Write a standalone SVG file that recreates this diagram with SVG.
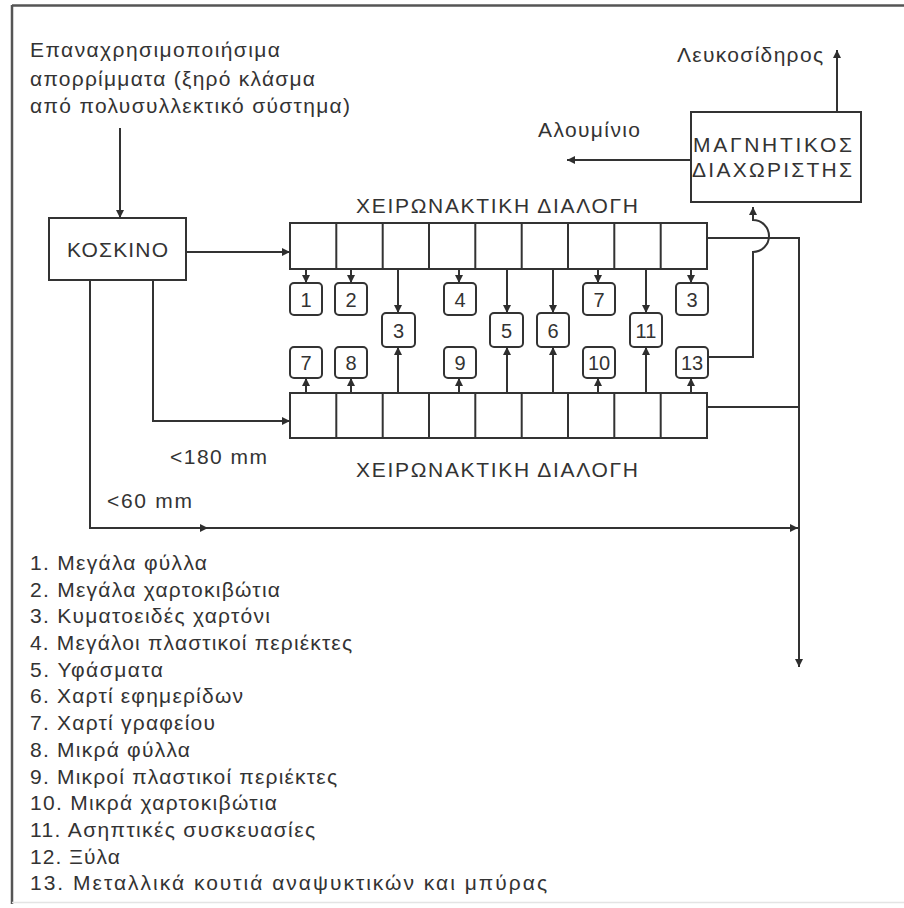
<svg xmlns="http://www.w3.org/2000/svg" width="904" height="908" viewBox="0 0 904 908">
<defs>
<marker id="ah" viewBox="0 0 10 10" refX="10" refY="5" markerWidth="9" markerHeight="8" markerUnits="userSpaceOnUse" orient="auto">
<path d="M0,0 L10,5 L0,10 z" fill="#2e2e2e"/>
</marker>
<style>
text{font-family:"Liberation Sans",Arial,sans-serif;fill:#333;}
.t{font-size:21px;}
.n{font-size:20px;text-anchor:middle;}
.ln{fill:none;stroke:#333;stroke-width:2;}
.bx{fill:#fff;stroke:#333;stroke-width:2;}
.ar{fill:none;stroke:#333;stroke-width:2;marker-end:url(#ah);}
</style>
</defs>
<rect x="0" y="0" width="904" height="908" fill="#fff"/>
<g id="frame">
<line x1="12" y1="5.5" x2="904" y2="5.5" stroke="#555" stroke-width="2.5"/>
<line x1="12" y1="5" x2="12" y2="904" stroke="#555" stroke-width="2.5"/>
<line x1="12" y1="902.5" x2="904" y2="902.5" stroke="#e4e4e4" stroke-width="1.5"/>
</g>
<g id="input-label">
<text class="t" x="30" y="57" textLength="250" lengthAdjust="spacing">Επαναχρησιμοποιήσιμα</text>
<text class="t" x="30" y="86" textLength="285" lengthAdjust="spacing">απορρίμματα (ξηρό κλάσμα</text>
<text class="t" x="30" y="113" textLength="320" lengthAdjust="spacing">από πολυσυλλεκτικό σύστημα)</text>
</g>
<g id="koskino">
<rect class="bx" x="49" y="218" width="137" height="62"/>
<text class="t" x="67" y="257" textLength="101" lengthAdjust="spacing">ΚΟΣΚΙΝΟ</text>
</g>
<g id="magnetic">
<rect class="bx" x="691" y="112" width="170" height="90"/>
<text class="t" x="693" y="152" textLength="159" lengthAdjust="spacing">ΜΑΓΝΗΤΙΚΟΣ</text>
<text class="t" x="692" y="177" textLength="160" lengthAdjust="spacing">ΔΙΑΧΩΡΙΣΤΗΣ</text>
</g>
<g id="upper-sorting">
<text class="t" x="356" y="213" textLength="282" lengthAdjust="spacing">ΧΕΙΡΩΝΑΚΤΙΚΗ ΔΙΑΛΟΓΗ</text>
<rect class="bx" x="290" y="223" width="417" height="46"/>
<path class="ln" d="M336.3,223V269M382.7,223V269M429,223V269M475.3,223V269M521.7,223V269M568,223V269M614.3,223V269M660.7,223V269"/>
</g>
<g id="lower-sorting">
<rect class="bx" x="290" y="393" width="417" height="45"/>
<path class="ln" d="M336.3,393V438M382.7,393V438M429,393V438M475.3,393V438M521.7,393V438M568,393V438M614.3,393V438M660.7,393V438"/>
<text class="t" x="356" y="477" textLength="282" lengthAdjust="spacing">ΧΕΙΡΩΝΑΚΤΙΚΗ ΔΙΑΛΟΓΗ</text>
</g>
<g id="outputs-top">
<g id="o1"><rect class="bx" x="290" y="283" width="32" height="32" rx="4"/><text class="n" x="306" y="306.5">1</text></g>
<g id="o2"><rect class="bx" x="335" y="283" width="32" height="32" rx="4"/><text class="n" x="351" y="306.5">2</text></g>
<g id="o4"><rect class="bx" x="444" y="283" width="32" height="32" rx="4"/><text class="n" x="460" y="306.5">4</text></g>
<g id="o7a"><rect class="bx" x="583" y="283" width="32" height="32" rx="4"/><text class="n" x="599" y="306.5">7</text></g>
<g id="o3b"><rect class="bx" x="676" y="283" width="32" height="32" rx="4"/><text class="n" x="692" y="306.5">3</text></g>
</g>
<g id="outputs-mid">
<g id="o3a"><rect class="bx" x="382" y="313" width="33" height="34" rx="4"/><text class="n" x="398.5" y="337.5">3</text></g>
<g id="o5"><rect class="bx" x="490" y="313" width="33" height="34" rx="4"/><text class="n" x="506.5" y="337.5">5</text></g>
<g id="o6"><rect class="bx" x="537" y="313" width="32" height="34" rx="4"/><text class="n" x="553" y="337.5">6</text></g>
<g id="o11"><rect class="bx" x="630" y="313" width="32" height="34" rx="4"/><text class="n" x="646" y="337.5">11</text></g>
</g>
<g id="outputs-bottom">
<g id="o7b"><rect class="bx" x="290" y="347" width="32" height="31" rx="4"/><text class="n" x="306" y="369.5">7</text></g>
<g id="o8"><rect class="bx" x="335" y="347" width="32" height="31" rx="4"/><text class="n" x="351" y="369.5">8</text></g>
<g id="o9"><rect class="bx" x="444" y="347" width="32" height="31" rx="4"/><text class="n" x="460" y="369.5">9</text></g>
<g id="o10"><rect class="bx" x="583" y="347" width="32" height="31" rx="4"/><text class="n" x="599" y="369.5">10</text></g>
<g id="o13"><rect class="bx" x="676" y="347" width="32" height="31" rx="4"/><text class="n" x="692" y="369.5">13</text></g>
</g>
<g id="labels">
<text class="t" x="677" y="62" textLength="146" lengthAdjust="spacing">Λευκοσίδηρος</text>
<text class="t" x="538" y="137" textLength="102" lengthAdjust="spacing">Αλουμίνιο</text>
<text class="t" x="170" y="464" textLength="97" lengthAdjust="spacing">&lt;180 mm</text>
<text class="t" x="107" y="508" textLength="85" lengthAdjust="spacing">&lt;60 mm</text>
</g>
<g id="connectors">
<path class="ar" d="M120,128V218"/>
<path class="ar" d="M186,252H290"/>
<path class="ar" d="M153,280V421H290"/>
<path class="ar" d="M90,280V528H208"/>
<path class="ar" d="M208,528H798"/>
<path class="ar" d="M707,238H799V667"/>
<path class="ln" d="M707,407H799"/>
<path class="ar" d="M707,357H753V252A16,16 0 0 0 753,220V207"/>
<path class="ar" d="M837,112V50"/>
<path class="ar" d="M691,160H567"/>
<path class="ar" d="M306,269V283"/>
<path class="ar" d="M351,269V283"/>
<path class="ar" d="M398,269V313"/>
<path class="ar" d="M459,269V283"/>
<path class="ar" d="M507,269V313"/>
<path class="ar" d="M553,269V313"/>
<path class="ar" d="M598,269V283"/>
<path class="ar" d="M646,269V313"/>
<path class="ar" d="M691,269V283"/>
<path class="ar" d="M306,393V378"/>
<path class="ar" d="M351,393V378"/>
<path class="ar" d="M398,393V347"/>
<path class="ar" d="M459,393V378"/>
<path class="ar" d="M507,393V347"/>
<path class="ar" d="M553,393V347"/>
<path class="ar" d="M598,393V378"/>
<path class="ar" d="M646,393V347"/>
<path class="ar" d="M691,393V378"/>
</g>
<g id="legend">
<text class="t" x="30" y="570" textLength="177" lengthAdjust="spacing">1. Μεγάλα φύλλα</text>
<text class="t" x="30" y="597" textLength="250" lengthAdjust="spacing">2. Μεγάλα χαρτοκιβώτια</text>
<text class="t" x="30" y="623" textLength="240" lengthAdjust="spacing">3. Κυματοειδές χαρτόνι</text>
<text class="t" x="30" y="650" textLength="322" lengthAdjust="spacing">4. Μεγάλοι πλαστικοί περιέκτες</text>
<text class="t" x="30" y="677" textLength="133" lengthAdjust="spacing">5. Υφάσματα</text>
<text class="t" x="30" y="703" textLength="213" lengthAdjust="spacing">6. Χαρτί εφημερίδων</text>
<text class="t" x="30" y="730" textLength="185" lengthAdjust="spacing">7. Χαρτί γραφείου</text>
<text class="t" x="30" y="757" textLength="160" lengthAdjust="spacing">8. Μικρά φύλλα</text>
<text class="t" x="30" y="784" textLength="307" lengthAdjust="spacing">9. Μικροί πλαστικοί περιέκτες</text>
<text class="t" x="30" y="810" textLength="247" lengthAdjust="spacing">10. Μικρά χαρτοκιβώτια</text>
<text class="t" x="30" y="837" textLength="285" lengthAdjust="spacing">11. Ασηπτικές συσκευασίες</text>
<text class="t" x="30" y="864" textLength="90" lengthAdjust="spacing">12. Ξύλα</text>
<text class="t" x="30" y="890" textLength="517" lengthAdjust="spacing">13. Μεταλλικά κουτιά αναψυκτικών και μπύρας</text>
</g>
</svg>
